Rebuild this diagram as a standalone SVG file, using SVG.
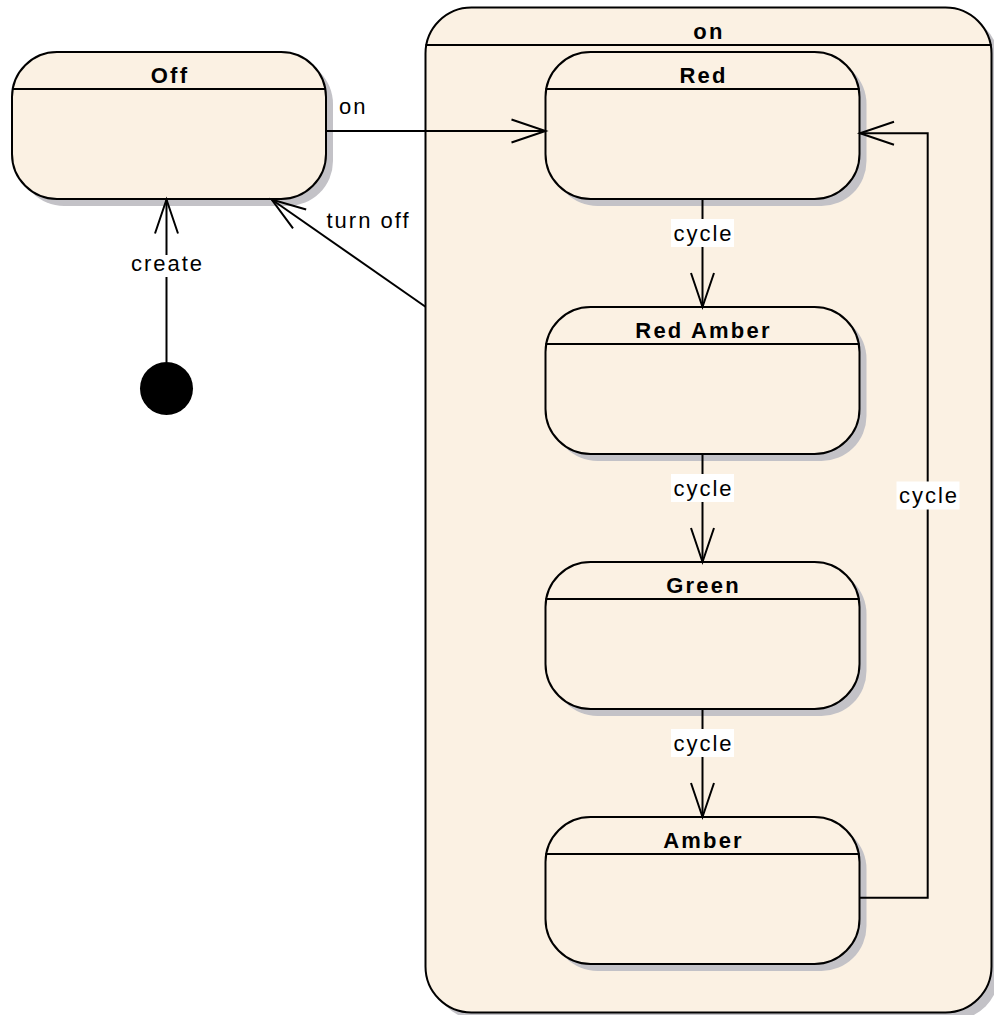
<svg xmlns="http://www.w3.org/2000/svg" width="994" height="1015" viewBox="0 0 994 1015">
  <style>
    .shadow { fill: #c3c2c7; }
    .body { fill: #fbf1e3; stroke: #000; stroke-width: 2; }
    .divider { stroke: #000; stroke-width: 2; }
    .title { font-family: "Liberation Sans", Arial, sans-serif; font-size: 22px; font-weight: bold; letter-spacing: 2.2px; text-anchor: middle; fill: #000; }
    .label { font-family: "Liberation Sans", Arial, sans-serif; font-size: 22px; letter-spacing: 2px; fill: #000; }
    .mid { text-anchor: middle; }
    .edge { fill: none; stroke: #000; stroke-width: 2; }
    .labelbg { fill: #fff; }
  </style>
  <defs>
    <marker id="open-arrow" markerUnits="userSpaceOnUse" viewBox="-38 -15 42 30" markerWidth="42" markerHeight="30" refX="0" refY="0" orient="auto" overflow="visible">
      <path d="M-34,-11.5 L0,0 L-34,11.5" fill="none" stroke="#000" stroke-width="2"/>
    </marker>
  </defs>

  <rect width="994" height="1015" fill="#fff"/>

  <!-- composite state "on" -->
  <g id="state-on">
    <rect class="shadow" x="433" y="15" width="566" height="1005" rx="46" ry="46"/>
    <rect class="body" x="425.5" y="7.5" width="566" height="1005" rx="46" ry="46"/>
    <line class="divider" x1="425.5" y1="45" x2="991.5" y2="45"/>
    <text class="title" x="709" y="39">on</text>
  </g>

  <!-- simple state "Off" -->
  <g id="state-off">
    <rect class="shadow" x="19" y="59" width="314" height="147" rx="45" ry="45"/>
    <rect class="body" x="12" y="52" width="314" height="147" rx="45" ry="45"/>
    <line class="divider" x1="12" y1="89" x2="326" y2="89"/>
    <text class="title" x="170" y="82.5">Off</text>
  </g>

  <!-- nested states -->
  <g id="state-red">
    <rect class="shadow" x="552.5" y="59" width="314" height="147" rx="45" ry="45"/>
    <rect class="body" x="545.5" y="52" width="314" height="147" rx="45" ry="45"/>
    <line class="divider" x1="545.5" y1="89" x2="859.5" y2="89"/>
    <text class="title" x="703.5" y="82.5">Red</text>
  </g>

  <g id="state-red-amber">
    <rect class="shadow" x="552.5" y="314" width="314" height="147" rx="45" ry="45"/>
    <rect class="body" x="545.5" y="307" width="314" height="147" rx="45" ry="45"/>
    <line class="divider" x1="545.5" y1="344" x2="859.5" y2="344"/>
    <text class="title" x="703.5" y="337.5">Red Amber</text>
  </g>

  <g id="state-green">
    <rect class="shadow" x="552.5" y="569" width="314" height="147" rx="45" ry="45"/>
    <rect class="body" x="545.5" y="562" width="314" height="147" rx="45" ry="45"/>
    <line class="divider" x1="545.5" y1="599" x2="859.5" y2="599"/>
    <text class="title" x="703.5" y="592.5">Green</text>
  </g>

  <g id="state-amber">
    <rect class="shadow" x="552.5" y="824" width="314" height="147" rx="45" ry="45"/>
    <rect class="body" x="545.5" y="817" width="314" height="147" rx="45" ry="45"/>
    <line class="divider" x1="545.5" y1="854" x2="859.5" y2="854"/>
    <text class="title" x="703.5" y="847.5">Amber</text>
  </g>

  <!-- initial pseudo-state -->
  <g id="initial">
    <circle cx="166.5" cy="388.5" r="26.5" fill="#000"/>
  </g>

  <!-- transitions -->
  <g id="transitions">
    <path class="edge" d="M166.5,362 L166.5,199.5" marker-end="url(#open-arrow)"/>
    <path class="edge" d="M326,131 L545.5,131" marker-end="url(#open-arrow)"/>
    <path class="edge" d="M425.5,306.7 L271.7,199.5" marker-end="url(#open-arrow)"/>
    <path class="edge" d="M702.5,199 L702.5,307" marker-end="url(#open-arrow)"/>
    <path class="edge" d="M702.5,454 L702.5,562" marker-end="url(#open-arrow)"/>
    <path class="edge" d="M702.5,709 L702.5,817" marker-end="url(#open-arrow)"/>
    <path class="edge" d="M859.5,897.7 L927.7,897.7 L927.7,133.3 L860,133.3" marker-end="url(#open-arrow)"/>

    <!-- transition labels -->
    <rect class="labelbg" x="129" y="255" width="74" height="22"/>
    <text class="label mid" x="167.5" y="271">create</text>

    <text class="label" x="339" y="114">on</text>
    <text class="label" x="326.5" y="228">turn off</text>

    <rect class="labelbg" x="671" y="219" width="63" height="28"/>
    <text class="label mid" x="703.5" y="241">cycle</text>

    <rect class="labelbg" x="671" y="474" width="63" height="28"/>
    <text class="label mid" x="703.5" y="496">cycle</text>

    <rect class="labelbg" x="671" y="729" width="63" height="28"/>
    <text class="label mid" x="703.5" y="751">cycle</text>

    <rect class="labelbg" x="896.5" y="481.5" width="63" height="28"/>
    <text class="label mid" x="929" y="503">cycle</text>
  </g>
</svg>
